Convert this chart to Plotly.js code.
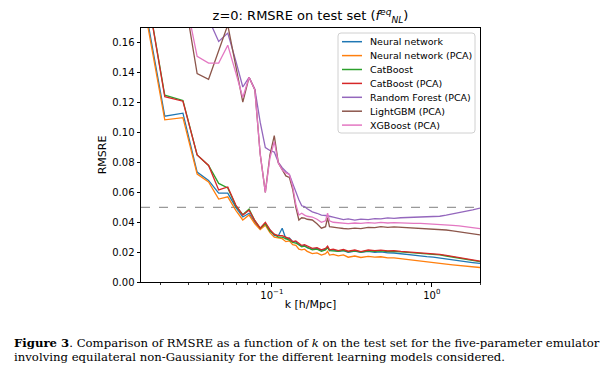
<!DOCTYPE html>
<html>
<head>
<meta charset="utf-8">
<script src="https://cdn.plot.ly/plotly-3.0.1.min.js"></script>
<style>
  html, body { margin: 0; padding: 0; background: #fff; }
  #chart { width: 606px; height: 374px; }
</style>
</head>
<body>
<div id="chart"></div>
<script>
// k values [h/Mpc]
const kValues = [
  0.0154, 0.0214, 0.0278, 0.0341, 0.0402, 0.0465, 0.0530, 0.0595, 0.0658, 0.0720,
  0.0783, 0.0845, 0.0910, 0.0972, 0.1035, 0.1098, 0.1160, 0.1223, 0.1286, 0.1349,
  0.1412, 0.1475, 0.1537, 0.1600, 0.1663, 0.1789, 0.1914, 0.2040, 0.2166, 0.2229,
  0.2292, 0.2418, 0.26, 0.28, 0.30, 0.33, 0.36, 0.40, 0.44, 0.48,
  0.53, 0.58, 0.64, 0.70, 0.77, 0.85, 0.93, 1.02, 1.12, 1.23,
  1.35, 1.48, 1.62, 1.80, 2.0
];

const neuralNetwork = [
  0.196, 0.111, 0.113, 0.0736, 0.068, 0.0595, 0.0595, 0.050, 0.0435, 0.046,
  0.040, 0.036, 0.039, 0.0345, 0.031, 0.031, 0.036, 0.029, 0.0295, 0.027,
  0.027, 0.025, 0.024, 0.0245, 0.023, 0.022, 0.0225, 0.021, 0.022, 0.0235,
  0.021, 0.0215, 0.0205, 0.021, 0.0198, 0.0207, 0.0199, 0.0205, 0.0199, 0.0202,
  0.0195, 0.0194, 0.0188, 0.0183, 0.0178, 0.0174, 0.0170, 0.0167, 0.0160, 0.0154,
  0.0148, 0.0142, 0.0136, 0.0130, 0.0124
];

const neuralNetworkPCA = [
  0.193, 0.1085, 0.110, 0.0723, 0.067, 0.0555, 0.057, 0.048, 0.0415, 0.0448,
  0.039, 0.035, 0.038, 0.033, 0.030, 0.0295, 0.029, 0.027, 0.0275, 0.025,
  0.0245, 0.022, 0.0215, 0.022, 0.0205, 0.019, 0.0195, 0.018, 0.019, 0.0205,
  0.018, 0.0185, 0.0175, 0.0182, 0.0166, 0.0174, 0.0164, 0.0171, 0.0166, 0.0169,
  0.0162, 0.0161, 0.0155, 0.0150, 0.0145, 0.0140, 0.0135, 0.0130, 0.0125, 0.0120,
  0.0115, 0.0110, 0.0106, 0.0101, 0.0097
];

const catBoost = [
  0.214, 0.125, 0.1215, 0.085, 0.078, 0.066, 0.063, 0.051, 0.045, 0.0488,
  0.041, 0.036, 0.039, 0.034, 0.032, 0.030, 0.030, 0.029, 0.028, 0.0265,
  0.026, 0.025, 0.0235, 0.024, 0.023, 0.0215, 0.022, 0.0205, 0.0215, 0.023,
  0.021, 0.021, 0.0205, 0.0212, 0.0202, 0.0209, 0.0200, 0.0209, 0.0205, 0.0209,
  0.0204, 0.0205, 0.0201, 0.0198, 0.0195, 0.0192, 0.0190, 0.0187, 0.0181, 0.0174,
  0.0166, 0.0159, 0.0152, 0.0144, 0.0136
];

const catBoostPCA = [
  0.214, 0.124, 0.121, 0.085, 0.078, 0.0616, 0.0636, 0.0515, 0.0448, 0.048,
  0.041, 0.036, 0.040, 0.035, 0.032, 0.031, 0.031, 0.030, 0.029, 0.027,
  0.0275, 0.026, 0.0245, 0.025, 0.024, 0.0225, 0.023, 0.0215, 0.0225, 0.024,
  0.0215, 0.022, 0.021, 0.0218, 0.0206, 0.0214, 0.0204, 0.0214, 0.0210, 0.0214,
  0.0208, 0.0210, 0.0205, 0.0202, 0.0199, 0.0196, 0.0194, 0.0191, 0.0185, 0.0178,
  0.0170, 0.0163, 0.0156, 0.0148, 0.0140
];

const randomForestPCA = [
  0.30, 0.26, 0.22, 0.195, 0.176, 0.161, 0.1666, 0.148, 0.1305, 0.137,
  0.129, 0.107, 0.090, 0.088, 0.087, 0.080, 0.0765, 0.074, 0.072, 0.066,
  0.060, 0.055, 0.051, 0.0505, 0.049, 0.047, 0.046, 0.0448, 0.0445, 0.0445,
  0.044, 0.0435, 0.0425, 0.0418, 0.0422, 0.0414, 0.0421, 0.0417, 0.0424, 0.0422,
  0.0429, 0.0426, 0.043, 0.0432, 0.0432, 0.0433, 0.0435, 0.0436, 0.044, 0.0447,
  0.0455, 0.0463, 0.0472, 0.0483, 0.0495
];

const lightGBMPCA = [
  0.28, 0.24, 0.197, 0.1395, 0.1357, 0.154, 0.172, 0.1445, 0.1204, 0.137,
  0.1285, 0.0857, 0.060, 0.085, 0.098, 0.0796, 0.075, 0.071, 0.070, 0.062,
  0.050, 0.0415, 0.043, 0.0428, 0.042, 0.0415, 0.039, 0.036, 0.037, 0.043,
  0.037, 0.0365, 0.0362, 0.0358, 0.0356, 0.0361, 0.0357, 0.0366, 0.0364, 0.0370,
  0.0366, 0.0369, 0.0366, 0.0365, 0.0363, 0.0361, 0.0358, 0.0356, 0.0352, 0.0348,
  0.0342, 0.0336, 0.0330, 0.0323, 0.0316
];

const xgBoostPCA = [
  0.27, 0.23, 0.198, 0.151, 0.1465, 0.1465, 0.1585, 0.140, 0.1235, 0.137,
  0.1285, 0.0857, 0.060, 0.083, 0.094, 0.0796, 0.075, 0.073, 0.072, 0.064,
  0.052, 0.0448, 0.046, 0.0448, 0.044, 0.0435, 0.042, 0.040, 0.041, 0.046,
  0.041, 0.040, 0.0398, 0.0393, 0.0391, 0.0395, 0.0392, 0.0398, 0.0394, 0.0399,
  0.0395, 0.0398, 0.0395, 0.0394, 0.0393, 0.0392, 0.0390, 0.0389, 0.0386, 0.0383,
  0.0379, 0.0375, 0.0370, 0.0364, 0.0357
];

const seriesNames = [
  "Neural network", "Neural network (PCA)", "CatBoost", "CatBoost (PCA)",
  "Random Forest (PCA)", "LightGBM (PCA)", "XGBoost (PCA)"
];
const seriesValues = [
  neuralNetwork, neuralNetworkPCA, catBoost, catBoostPCA,
  randomForestPCA, lightGBMPCA, xgBoostPCA
];
const seriesColors = ["#1f77b4", "#ff7f0e", "#2ca02c", "#d62728", "#9467bd", "#8c564b", "#e377c2"];

const thresholdValue = 0.05;
const yTickValues = [0, 0.02, 0.04, 0.06, 0.08, 0.10, 0.12, 0.14, 0.16];
const xMajorTicks = [0.1, 1];
const xMajorLabels = ["10<sup>\u22121</sup>", "10<sup>0</sup>"];
const xMinorTicks = [0.02, 0.03, 0.04, 0.05, 0.06, 0.07, 0.08, 0.09, 0.2, 0.3, 0.4, 0.5, 0.6, 0.7, 0.8, 0.9, 2];

const traces = seriesNames.map((name, i) => ({
  type: "scatter",
  mode: "lines",
  name: name,
  x: kValues,
  y: seriesValues[i],
  line: { color: seriesColors[i], width: 1.3 },
  showlegend: false,
  hoverinfo: "skip"
}));

const fontFam = "DejaVu Sans, sans-serif";
const serif = "DejaVu Serif, Liberation Serif, serif";

// plot-area geometry in pixels (for converting legend layout to paper units)
const PL = 141, PR = 480, PT = 28, PB = 282;
const px = v => (v - PL) / (PR - PL);
const py = v => (PB - v) / (PB - PT);

// matplotlib-style legend box (rounded corners)
const bx0 = px(338), bx1 = px(475), by0 = py(133), by1 = py(33);
const rx = 3 / (PR - PL), ry = 3 / (PB - PT);
const boxPath = `M ${bx0 + rx} ${by1} L ${bx1 - rx} ${by1} Q ${bx1} ${by1} ${bx1} ${by1 - ry} ` +
  `L ${bx1} ${by0 + ry} Q ${bx1} ${by0} ${bx1 - rx} ${by0} L ${bx0 + rx} ${by0} ` +
  `Q ${bx0} ${by0} ${bx0} ${by0 + ry} L ${bx0} ${by1 - ry} Q ${bx0} ${by1} ${bx0 + rx} ${by1} Z`;

const shapes = [{
  type: "line", xref: "paper", x0: 0, x1: 1, yref: "y", y0: thresholdValue, y1: thresholdValue,
  line: { color: "#999999", width: 1.2, dash: "dash" }, layer: "below"
}, {
  type: "path", xref: "paper", yref: "paper", path: boxPath,
  fillcolor: "rgba(255,255,255,0.85)", line: { color: "#d0d0d0", width: 1 }, layer: "above"
}];
const annotations = [];
seriesNames.forEach((name, i) => {
  const yc = py(41.7 + i * 13.9);
  shapes.push({
    type: "line", xref: "paper", yref: "paper", x0: px(342), x1: px(362), y0: yc, y1: yc,
    line: { color: seriesColors[i], width: 1.5 }, layer: "above"
  });
  annotations.push({
    text: name, xref: "paper", yref: "paper", x: px(368), y: yc,
    xanchor: "left", yanchor: "middle", showarrow: false,
    font: { family: fontFam, size: 9.5, color: "#000" }
  });
});

annotations.push({
  text: "<b>Figure 3</b>. Comparison of RMSRE as a function of <i>k</i> on the test set for the five-parameter emulator",
  xref: "paper", yref: "paper", x: px(12), y: py(343), xanchor: "left", yanchor: "middle",
  showarrow: false, font: { family: serif, size: 11.7, color: "#000" }
});
annotations.push({
  text: "involving equilateral non-Gaussianity for the different learning models considered.",
  xref: "paper", yref: "paper", x: px(12), y: py(357), xanchor: "left", yanchor: "middle",
  showarrow: false, font: { family: serif, size: 11.7, color: "#000" }
});

const layout = {
  width: 606,
  height: 374,
  margin: { l: PL, r: 606 - PR, t: PT, b: 374 - PB },
  paper_bgcolor: "#ffffff",
  plot_bgcolor: "#ffffff",
  font: { family: fontFam, color: "#000000", size: 10 },
  showlegend: false,
  title: {
    text: "z=0: RMSRE on test set (<i>f</i><sup><i>eq</i></sup><sub><i>NL</i></sub>)",
    font: { family: fontFam, size: 13, color: "#000" },
    x: 0.5, xref: "paper", xanchor: "center",
    y: 0.958, yref: "container", yanchor: "middle"
  },
  xaxis: {
    type: "log",
    range: [Math.log10(0.0152), Math.log10(2.0)],
    showline: true, mirror: true, linecolor: "#000", linewidth: 1,
    showgrid: false, zeroline: false,
    ticks: "outside", ticklen: 3.5, tickwidth: 1, tickcolor: "#000",
    tickmode: "array", tickvals: xMajorTicks, ticktext: xMajorLabels,
    tickfont: { size: 10, family: fontFam },
    minor: { ticks: "outside", ticklen: 2, tickwidth: 0.8, tickcolor: "#000", tickmode: "array", tickvals: xMinorTicks, showgrid: false },
    title: { text: "k [h/Mpc]", font: { size: 11, family: fontFam }, standoff: 0 }
  },
  yaxis: {
    range: [0, 0.17],
    showline: true, mirror: true, linecolor: "#000", linewidth: 1,
    showgrid: false, zeroline: false,
    ticks: "outside", ticklen: 3.5, tickwidth: 1, tickcolor: "#000",
    tickmode: "array", tickvals: yTickValues, tickformat: ".2f",
    tickfont: { size: 10, family: fontFam },
    title: { text: "RMSRE", font: { size: 11, family: fontFam }, standoff: 3 }
  },
  shapes: shapes,
  annotations: annotations
};

Plotly.newPlot("chart", traces, layout, { staticPlot: true, displayModeBar: false });
</script>
</body>
</html>
